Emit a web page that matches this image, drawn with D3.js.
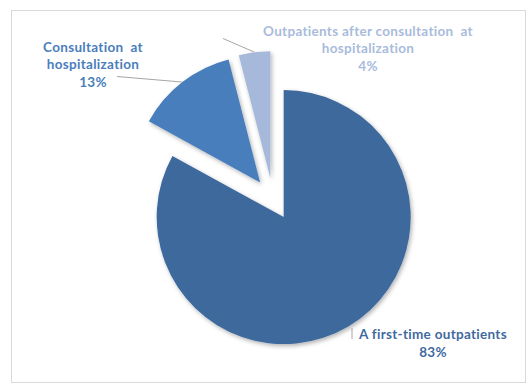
<!DOCTYPE html>
<html>
<head>
<meta charset="utf-8">
<script src="https://cdn.jsdelivr.net/npm/d3@7"></script>
<style>
  html, body { margin: 0; padding: 0; background: #fff; }
  svg { display: block; }
</style>
</head>
<body>
<div id="chart"></div>
<script>
// data
const categories = ["A first-time outpatients", "Consultation at hospitalization", "Outpatients after consultation at hospitalization"]
const values = [83, 13, 4]
const labelLines = [
    ["A first-time outpatients"],
    ["Consultation  at", "hospitalization"],
    ["Outpatients after consultation  at", "hospitalization"]
]

const width = 531, height = 383
const cx = 273, cy = 199, radius = 127, explode = 21

const sliceColor = ["#3d699d", "#4a7ebd", "#a7b9da"]
const textColor = ["#3f6a9f", "#4a7ebb", "#a9bbdc"]

// where each label block is centred (x) and first baseline (y)
const labelPos = [
    {x: 433, y: 339},
    {x: 93, y: 51.5},
    {x: 368, y: 35.5}
]
const lineGap = 17.6

let svg = d3.select('#chart')
            .append('svg')
            .attr('width', width)
            .attr('height', height)

// chart area border
svg.append('rect')
    .attr('x', 11.5).attr('y', 10.5)
    .attr('width', 514).attr('height', 372)
    .attr('fill', '#fff')
    .attr('stroke', '#d9d9d9')

let defs = svg.append('defs')
defs.append('filter')
    .attr('id', 'shadow')
    .attr('x', '-20%').attr('y', '-20%')
    .attr('width', '140%').attr('height', '140%')
    .append('feDropShadow')
    .attr('dx', 1.5).attr('dy', 2)
    .attr('stdDeviation', 2.2)
    .attr('flood-color', '#000')
    .attr('flood-opacity', 0.3)

let data = values.map((v, i) => ({name: categories[i], value: v, i: i}))

let pie = d3.pie().sort(null).value(d => d.value)
let arcs = pie(data)

let arc = d3.arc().innerRadius(0).outerRadius(radius)
let edgeArc = d3.arc().innerRadius(radius).outerRadius(radius)

function offset(d) {
    let a = (d.startAngle + d.endAngle) / 2
    return [cx + explode * Math.sin(a), cy - explode * Math.cos(a)]
}

let g = svg.append('g')

g.selectAll('path.slice')
    .data(arcs)
    .enter().append('path')
    .attr('class', 'slice')
    .attr('d', arc)
    .attr('transform', d => { let o = offset(d); return "translate(" + o[0] + "," + o[1] + ")" })
    .attr('fill', d => sliceColor[d.data.i])
    .attr('filter', 'url(#shadow)')

// leader lines from slice edge to label
arcs.forEach(d => {
    let o = offset(d)
    let c = edgeArc.centroid(d)
    let p = labelPos[d.data.i]
    let sx = o[0] + c[0], sy = o[1] + c[1]
    let ex, ey
    if (d.data.i == 0) {
        ex = p.x - 81; ey = p.y - 11
        sx = ex; sy = p.y + 0
    } else if (d.data.i == 1) {
        ex = p.x + 24; ey = p.y + 25
    } else {
        ex = p.x - 145; ey = p.y + 3
    }
    svg.append('line')
        .attr('x1', sx).attr('y1', sy)
        .attr('x2', ex).attr('y2', ey)
        .attr('stroke', '#a6a6a6')
        .attr('stroke-width', 1)
})

// labels
arcs.forEach(d => {
    let i = d.data.i
    let p = labelPos[i]
    let lines = labelLines[i].concat([d.data.value + "%"])
    let t = svg.append('text')
        .attr('text-anchor', 'middle')
        .attr('font-family', 'Lato, "Open Sans", sans-serif')
        .attr('font-weight', 'bold')
        .attr('font-size', 13.5)
        .attr('letter-spacing', 0.3)
        .attr('fill', textColor[i])
        .style('white-space', 'pre')
    lines.forEach((s, k) => {
        t.append('tspan')
            .attr('x', p.x)
            .attr('y', p.y + k * lineGap)
            .text(s)
    })
})
</script>
</body>
</html>
